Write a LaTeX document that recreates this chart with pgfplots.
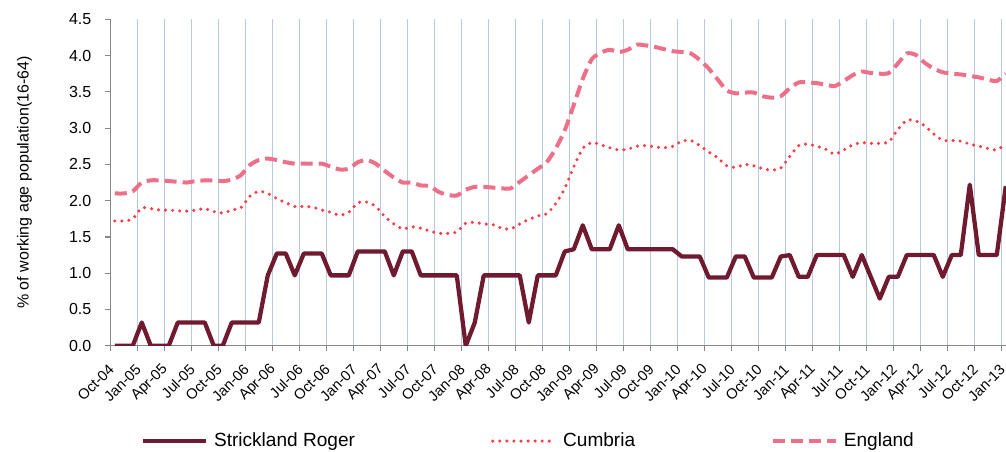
\documentclass[border=0pt]{standalone}
\usepackage{fontspec}
\setmainfont{Liberation Sans}
\usepackage{pgfplots}
\usepackage{pgfplotstable}
\pgfplotsset{compat=1.18}
\definecolor{strick}{RGB}{112,26,48}
\definecolor{cumb}{RGB}{255,59,71}
\definecolor{eng}{RGB}{238,112,136}
\definecolor{gridblue}{RGB}{180,201,227}
\definecolor{axisgray}{RGB}{134,134,134}

\pgfplotstableread{
i s c e
0 0 1.72 2.10
1 0 1.72 2.10
2 0 1.75 2.13
3 0.32 1.90 2.25
4 0 1.89 2.28
5 0 1.87 2.28
6 0 1.87 2.27
7 0.32 1.86 2.26
8 0.32 1.855 2.25
9 0.32 1.87 2.27
10 0.32 1.89 2.28
11 0 1.85 2.28
12 0 1.83 2.27
13 0.32 1.87 2.29
14 0.32 1.90 2.35
15 0.32 2.06 2.49
16 0.32 2.13 2.56
17 0.97 2.10 2.58
18 1.27 2.03 2.56
19 1.27 1.97 2.53
20 0.97 1.92 2.51
21 1.27 1.92 2.51
22 1.27 1.91 2.51
23 1.27 1.87 2.51
24 0.97 1.84 2.47
25 0.97 1.80 2.43
26 0.97 1.84 2.44
27 1.30 1.97 2.53
28 1.30 1.98 2.56
29 1.30 1.92 2.51
30 1.30 1.78 2.41
31 0.97 1.68 2.32
32 1.30 1.61 2.25
33 1.30 1.64 2.25
34 0.97 1.62 2.21
35 0.97 1.58 2.20
36 0.97 1.55 2.12
37 0.97 1.55 2.08
38 0.97 1.57 2.07
39 0 1.69 2.15
40 0.32 1.70 2.19
41 0.97 1.68 2.19
42 0.97 1.67 2.18
43 0.97 1.62 2.17
44 0.97 1.61 2.17
45 0.97 1.68 2.26
46 0.32 1.74 2.35
47 0.97 1.79 2.44
48 0.97 1.82 2.53
49 0.97 1.96 2.72
50 1.30 2.17 2.97
51 1.33 2.47 3.32
52 1.66 2.72 3.68
53 1.33 2.80 3.95
54 1.33 2.77 4.04
55 1.33 2.73 4.08
56 1.66 2.70 4.05
57 1.33 2.71 4.08
58 1.33 2.75 4.15
59 1.33 2.76 4.14
60 1.33 2.74 4.12
61 1.33 2.73 4.09
62 1.33 2.75 4.06
63 1.23 2.82 4.05
64 1.23 2.83 4.03
65 1.23 2.76 3.94
66 0.94 2.67 3.82
67 0.94 2.59 3.67
68 0.94 2.48 3.52
69 1.23 2.46 3.48
70 1.23 2.50 3.49
71 0.94 2.48 3.49
72 0.94 2.44 3.44
73 0.94 2.42 3.42
74 1.23 2.45 3.44
75 1.25 2.61 3.55
76 0.95 2.76 3.63
77 0.95 2.78 3.63
78 1.25 2.75 3.62
79 1.25 2.71 3.60
80 1.25 2.64 3.58
81 1.25 2.70 3.65
82 0.95 2.77 3.73
83 1.25 2.80 3.78
84 0.95 2.79 3.76
85 0.65 2.79 3.75
86 0.95 2.81 3.76
87 0.95 2.98 3.89
88 1.25 3.11 4.03
89 1.25 3.10 4.01
90 1.25 3.03 3.90
91 1.25 2.92 3.82
92 0.95 2.83 3.77
93 1.25 2.83 3.75
94 1.25 2.82 3.74
95 2.22 2.78 3.72
96 1.25 2.75 3.70
97 1.25 2.72 3.67
98 1.25 2.70 3.65
99 2.20 2.78 3.75
}\chartdata

\begin{document}
\begin{tikzpicture}
\begin{axis}[
  scale only axis,
  width=675pt, height=244.8pt,
  xmin=-0.5, xmax=99.5, ymin=0, ymax=4.5,
  axis x line*=bottom, axis y line*=left,
  axis line style={-, draw=axisgray, line width=1.1pt},
  xtick={-0.5,2.5,...,98.5},
  xticklabels={},
  extra x ticks={0,3,...,99},
  extra x tick labels={Oct-04,Jan-05,Apr-05,Jul-05,Oct-05,Jan-06,Apr-06,Jul-06,Oct-06,Jan-07,Apr-07,Jul-07,Oct-07,Jan-08,Apr-08,Jul-08,Oct-08,Jan-09,Apr-09,Jul-09,Oct-09,Jan-10,Apr-10,Jul-10,Oct-10,Jan-11,Apr-11,Jul-11,Oct-11,Jan-12,Apr-12,Jul-12,Oct-12,Jan-13},
  extra x tick style={grid=none, major tick length=0pt},
  xmajorgrids,
  grid style={draw=gridblue, line width=1.1pt},
  ytick={0,0.5,1,1.5,2,2.5,3,3.5,4,4.5},
  tick align=outside,
  major tick length=4pt,
  tick style={draw=axisgray, line width=0.9pt},
  /pgf/number format/assume math mode=true,
  yticklabel style={font=\fontsize{12}{14}\selectfont, anchor=east, inner sep=0pt, xshift=-10pt,
    /pgf/number format/.cd, fixed, fixed zerofill, precision=1},
  xticklabel style={font=\fontsize{11}{13}\selectfont, rotate=45, anchor=east, inner sep=1pt, xshift=-12pt, yshift=-9.5pt},
  ylabel={\% of working age population(16-64)},
  ylabel style={font=\fontsize{12}{14}\selectfont, at={(axis description cs:-0.0953,0.5)}, anchor=center},
  legend columns=3,
  legend style={at={(axis description cs:0.034,-0.292)}, anchor=west, draw=none, fill=none,
    inner sep=0pt, font=\fontsize{14.3}{16}\selectfont,
    /tikz/every odd column/.append style={column sep=2.5pt},
    /tikz/every even column/.append style={column sep=100pt}},
  legend image code/.code={\draw[#1] (0pt,0pt) -- (47pt,0pt);},
]
\addplot[draw=strick, line width=3.2pt, line join=round] table[x=i,y=s]{\chartdata};
\addlegendentry{Strickland Roger}
\addplot[draw=cumb, line width=2.6pt, line cap=round, dash pattern=on 0pt off 5.3pt, smooth, tension=0.4] table[x=i,y=c]{\chartdata};
\addlegendentry{Cumbria}
\addplot[draw=eng, line width=3pt, dash pattern=on 9pt off 4.5pt, smooth, tension=0.4] table[x=i,y=e]{\chartdata};
\addlegendentry{England}
\end{axis}
\pgfresetboundingbox
\path[use as bounding box] (-82.7pt,-79.7pt) rectangle (671.8pt,259.3pt);
\end{tikzpicture}
\end{document}
